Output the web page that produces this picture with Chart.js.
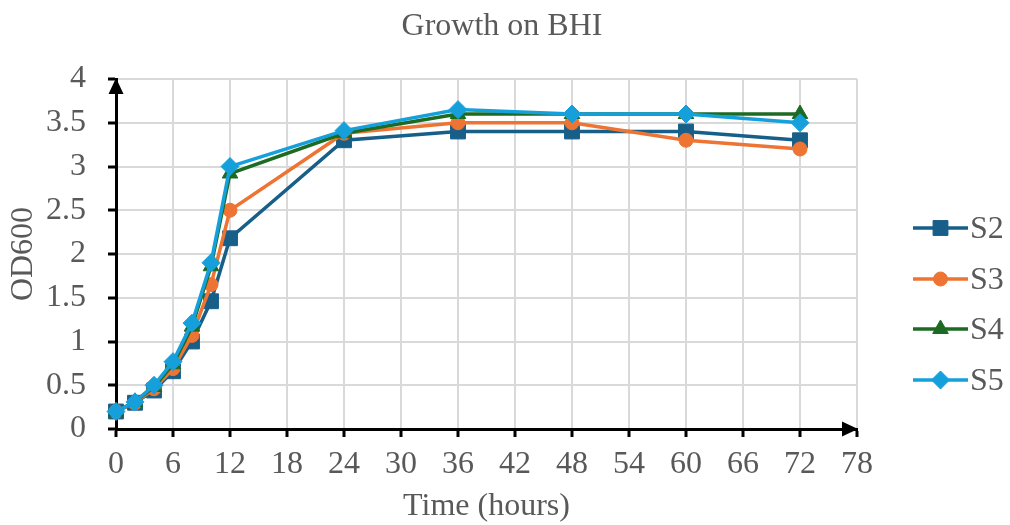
<!DOCTYPE html>
<html><head><meta charset="utf-8">
<script src="https://cdn.jsdelivr.net/npm/chart.js@4.4.1/dist/chart.umd.min.js"></script>
<style>html,body{margin:0;padding:0;background:#fff}#wrap{width:1010px;height:525px;position:relative}</style>
</head><body><div id="wrap"><canvas id="c"></canvas></div>
<script>
// ---- data ----
const hours = [0, 2, 4, 6, 8, 10, 12, 24, 36, 48, 60, 72];
const s2 = [0.2, 0.3, 0.44, 0.66, 1.0, 1.46, 2.18, 3.3, 3.4, 3.4, 3.4, 3.3];
const s3 = [0.2, 0.3, 0.46, 0.69, 1.07, 1.65, 2.5, 3.38, 3.5, 3.5, 3.3, 3.2];
const s4 = [0.2, 0.31, 0.48, 0.74, 1.17, 1.86, 2.92, 3.38, 3.6, 3.6, 3.6, 3.6];
const s5 = [0.2, 0.31, 0.5, 0.77, 1.21, 1.9, 3.0, 3.41, 3.65, 3.6, 3.6, 3.5];
const seriesNames = ['S2', 'S3', 'S4', 'S5'];
const xTickValues = [0, 6, 12, 18, 24, 30, 36, 42, 48, 54, 60, 66, 72, 78];
const yTickValues = [0, 0.5, 1, 1.5, 2, 2.5, 3, 3.5, 4];
const chartTitle = 'Growth on BHI';
const xTitle = 'Time (hours)';
const yTitle = 'OD600';

// ---- styles ----
const FONT = '"Liberation Serif", "Times New Roman", serif';
const FS = 32;
const TXT = '#595959';
const styles = [
  {color: '#175f88', point: 'rect', r: 10.5},
  {color: '#ed7433', point: 'circle', r: 7},
  {color: '#1d6b23', point: 'triangle', r: 9},
  {color: '#16a0db', point: 'rectRot', r: 9}
];
const seriesValues = [s2, s3, s4, s5];

const datasets = seriesValues.map((vals, i) => ({
  label: seriesNames[i],
  data: hours.map((h, k) => ({x: h, y: vals[k]})),
  borderColor: styles[i].color,
  backgroundColor: styles[i].color,
  pointBackgroundColor: styles[i].color,
  pointBorderColor: styles[i].color,
  pointBorderWidth: 1,
  pointStyle: styles[i].point,
  pointRadius: styles[i].r,
  borderWidth: 3.5,
  tension: 0,
  clip: false,
  order: 3 - i
}));

function drawMarker(ctx, style, x, y, r, color) {
  ctx.save();
  ctx.fillStyle = color; ctx.strokeStyle = color; ctx.lineWidth = 1;
  ctx.beginPath();
  if (style === 'rect') { const s = Math.SQRT1_2 * r; ctx.rect(x - s, y - s, 2 * s, 2 * s); }
  else if (style === 'circle') { ctx.arc(x, y, r, 0, Math.PI * 2); }
  else if (style === 'triangle') {
    ctx.moveTo(x, y - r);
    ctx.lineTo(x + r * Math.cos(Math.PI / 6), y + r * 0.5);
    ctx.lineTo(x - r * Math.cos(Math.PI / 6), y + r * 0.5);
    ctx.closePath();
  } else if (style === 'rectRot') {
    ctx.moveTo(x, y - r); ctx.lineTo(x + r, y); ctx.lineTo(x, y + r); ctx.lineTo(x - r, y); ctx.closePath();
  }
  ctx.fill(); ctx.stroke();
  ctx.restore();
}

const decor = {
  id: 'decor',
  afterDraw(chart) {
    const ctx = chart.ctx;
    const a = chart.chartArea;
    ctx.save();
    // axis arrows
    ctx.fillStyle = '#000';
    const yx = a.left, yt = a.top;
    ctx.beginPath(); ctx.moveTo(yx, yt - 1); ctx.lineTo(yx + 7.5, yt + 15); ctx.lineTo(yx - 7.5, yt + 15); ctx.closePath(); ctx.fill();
    const xr = a.right, xb = a.bottom;
    ctx.beginPath(); ctx.moveTo(xr + 1, xb); ctx.lineTo(xr - 15, xb - 7.5); ctx.lineTo(xr - 15, xb + 7.5); ctx.closePath(); ctx.fill();
    // title
    ctx.fillStyle = TXT;
    ctx.font = FS + 'px ' + FONT;
    ctx.textAlign = 'center'; ctx.textBaseline = 'alphabetic';
    ctx.fillText(chartTitle, 502, 35);
    // legend
    const ys = [228, 279, 329, 380];
    seriesNames.forEach((n, i) => {
      const y = ys[i];
      ctx.strokeStyle = styles[i].color; ctx.lineWidth = 3.5;
      ctx.beginPath(); ctx.moveTo(913, y); ctx.lineTo(968, y); ctx.stroke();
      drawMarker(ctx, styles[i].point, 940.5, y, styles[i].r, styles[i].color);
      ctx.fillStyle = TXT; ctx.font = FS + 'px ' + FONT;
      ctx.textAlign = 'left'; ctx.textBaseline = 'alphabetic';
      ctx.fillText(n, 970, y + 10);
    });
    ctx.restore();
  }
};

new Chart(document.getElementById('c'), {
  type: 'line',
  data: {datasets},
  plugins: [decor],
  options: {
    responsive: true,
    maintainAspectRatio: false,
    animation: false,
    layout: {padding: {top: 79, right: 153, left: 0, bottom: 0}},
    plugins: {legend: {display: false}, title: {display: false}, tooltip: {enabled: false}},
    scales: {
      x: {
        type: 'linear', min: 0, max: 78,
        afterBuildTicks: s => { s.ticks = xTickValues.map(v => ({value: v})); },
        afterFit: s => { s.height = 96; },
        grid: {color: '#d9d9d9', lineWidth: 2, tickColor: '#000', tickWidth: 3, tickLength: 8},
        border: {color: '#000', width: 3},
        ticks: {color: TXT, font: {family: FONT, size: FS}, padding: 8, maxRotation: 0, autoSkip: false,
                callback: v => String(v)},
        title: {display: true, text: xTitle, color: TXT, font: {family: FONT, size: FS}, padding: {top: 0, bottom: -1}}
      },
      y: {
        type: 'linear', min: 0, max: 4,
        afterBuildTicks: s => { s.ticks = yTickValues.map(v => ({value: v})); },
        afterFit: s => { s.width = 116; },
        grid: {color: '#d9d9d9', lineWidth: 2, tickColor: '#000', tickWidth: 3, tickLength: 8},
        border: {color: '#000', width: 3},
        ticks: {color: TXT, font: {family: FONT, size: FS}, padding: 22, callback: v => String(v)},
        title: {display: true, text: yTitle, color: TXT, font: {family: FONT, size: FS}, padding: {top: 4, bottom: 0}}
      }
    }
  }
});
</script></body></html>
